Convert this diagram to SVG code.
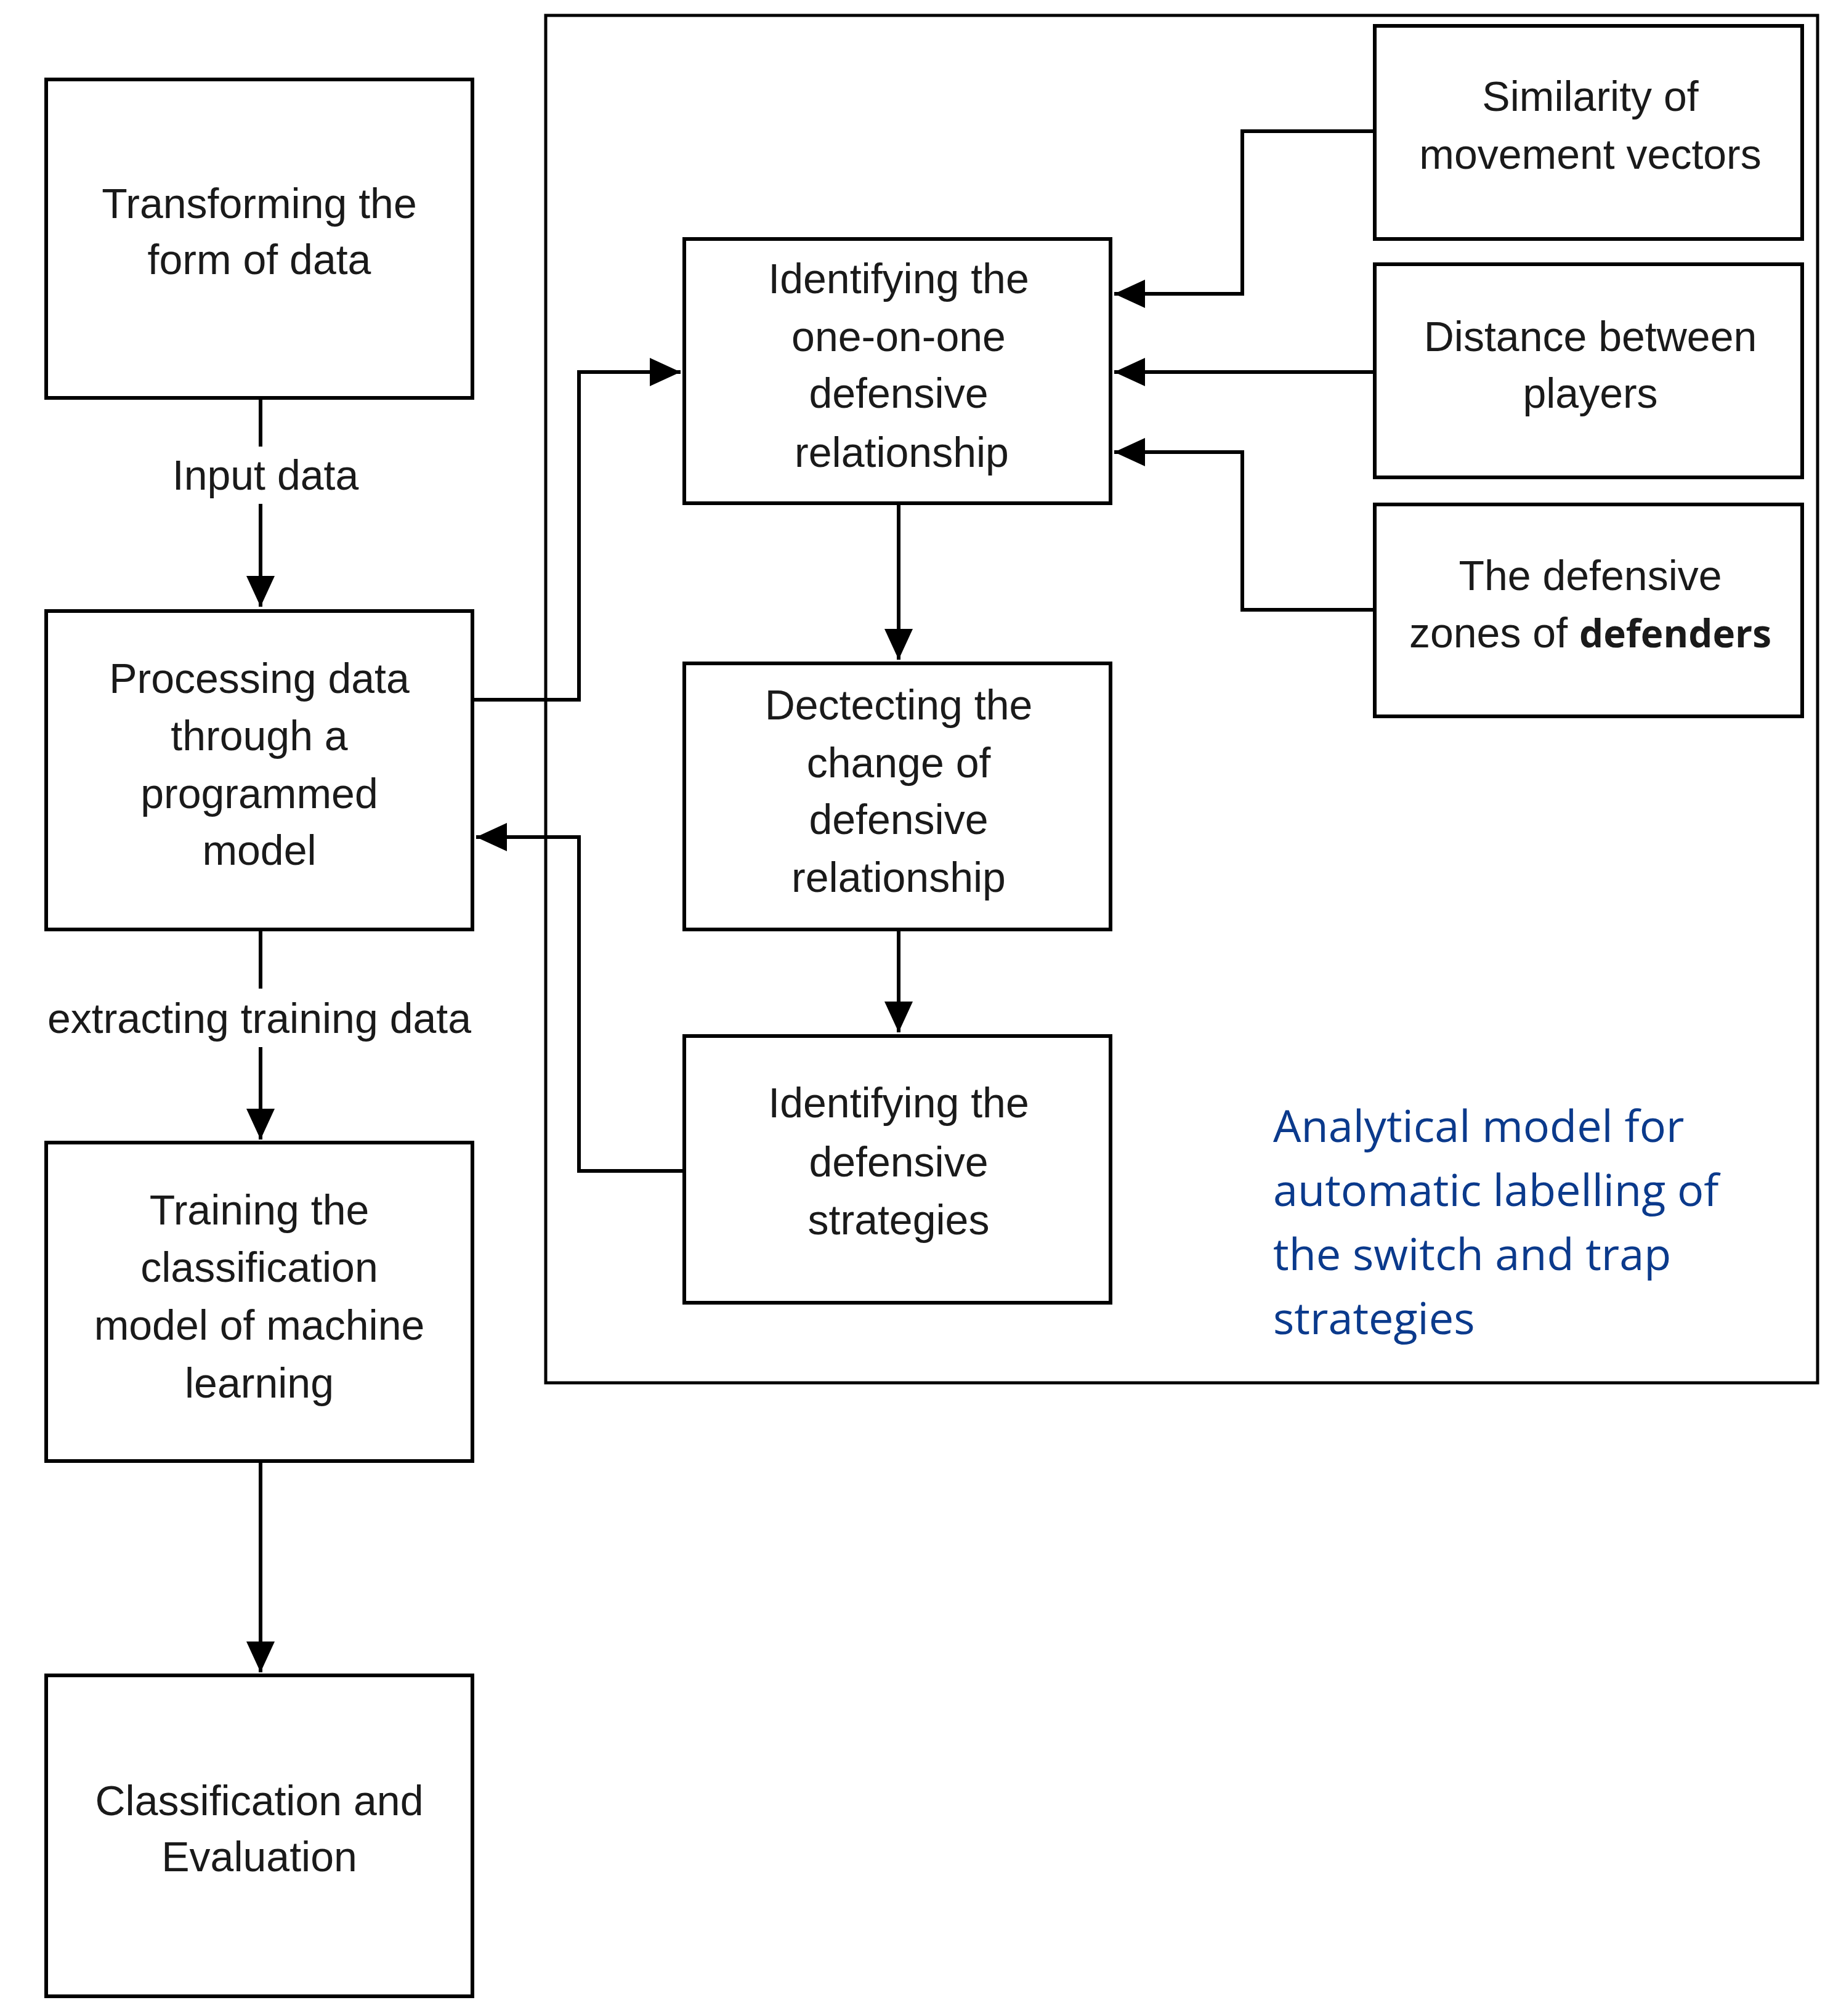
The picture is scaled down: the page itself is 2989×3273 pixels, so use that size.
<svg xmlns="http://www.w3.org/2000/svg" width="2989" height="3273" viewBox="0 0 2989 3273">
<style>
rect{fill:#fff;stroke:#000;stroke-width:6}
text{font-family:"Liberation Sans",Arial,sans-serif;font-size:68px;fill:#1a1a1a;text-anchor:middle;dominant-baseline:central}
.c path{fill:none;stroke:#000;stroke-width:6}
.blue{font-family:"Open Sans","Noto Sans",sans-serif;font-size:72px;fill:#0b3a8c;text-anchor:start}
</style>
<defs><marker id="a" markerUnits="userSpaceOnUse" markerWidth="50" markerHeight="50" refX="50" refY="25" orient="auto"><path d="M0,2 L50,25 L0,48 Z" fill="#000"/></marker></defs>
<rect id="frame" x="886" y="25" width="2065" height="2220" style="stroke-width:5"/>
<g class="c">
<path d="M423,646 V725 M423,818 V985" marker-end="url(#a)"/>
<path d="M423,1509 V1605 M423,1700 V1850" marker-end="url(#a)"/>
<path d="M423,2372 V2715" marker-end="url(#a)"/>
<path d="M767,1136 H940 V604 H1105" marker-end="url(#a)"/>
<path d="M1111,1901 H940 V1359 H773" marker-end="url(#a)"/>
<path d="M1459,817 V1071" marker-end="url(#a)"/>
<path d="M1459,1509 V1676" marker-end="url(#a)"/>
<path d="M2232,213 H2017 V477 H1809" marker-end="url(#a)"/>
<path d="M2232,604 H1809" marker-end="url(#a)"/>
<path d="M2232,990 H2017 V734 H1809" marker-end="url(#a)"/>
<text x="431" y="771">Input data</text>
<text x="421" y="1653">extracting training data</text>
</g>
<g id="n1"><rect x="75" y="129" width="692" height="517"/><text x="421" y="330">Transforming the</text><text x="421" y="421">form of data</text></g>
<g id="n2"><rect x="75" y="992" width="692" height="517"/><text x="421" y="1101">Processing data</text><text x="421" y="1194">through a</text><text x="421" y="1288">programmed</text><text x="421" y="1380">model</text></g>
<g id="n3"><rect x="75" y="1855" width="692" height="517"/><text x="421" y="1964">Training the</text><text x="421" y="2057">classification</text><text x="421" y="2151">model of machine</text><text x="421" y="2245">learning</text></g>
<g id="n4"><rect x="75" y="2720" width="692" height="521"/><text x="421" y="2923">Classification and</text><text x="421" y="3014">Evaluation</text></g>
<g id="m1"><rect x="1111" y="388" width="692" height="429"/><text x="1459" y="452">Identifying the</text><text x="1459" y="546">one-on-one</text><text x="1459" y="638">defensive</text><text x="1464" y="734">relationship</text></g>
<g id="m2"><rect x="1111" y="1077" width="692" height="432"/><text x="1459" y="1144">Dectecting the</text><text x="1459" y="1238">change of</text><text x="1459" y="1330">defensive</text><text x="1459" y="1424">relationship</text></g>
<g id="m3"><rect x="1111" y="1682" width="692" height="433"/><text x="1459" y="1790">Identifying the</text><text x="1459" y="1886">defensive</text><text x="1459" y="1980">strategies</text></g>
<g id="r1"><rect x="2232" y="42" width="694" height="346"/><text x="2582" y="156">Similarity of</text><text x="2582" y="250">movement vectors</text></g>
<g id="r2"><rect x="2232" y="429" width="694" height="346"/><text x="2582" y="546">Distance between</text><text x="2582" y="638">players</text></g>
<g id="r3"><rect x="2232" y="819" width="694" height="344"/><text x="2582" y="934">The defensive</text><text x="2582" y="1027">zones of <tspan style="font-family:'Open Sans',sans-serif;font-weight:bold;font-size:62px">defenders</tspan></text></g>
<g id="label"><text class="blue" x="2067" y="1826">Analytical model for</text><text class="blue" x="2067" y="1930">automatic labelling of</text><text class="blue" x="2067" y="2034">the switch and trap</text><text class="blue" x="2067" y="2138">strategies</text></g>
</svg>
